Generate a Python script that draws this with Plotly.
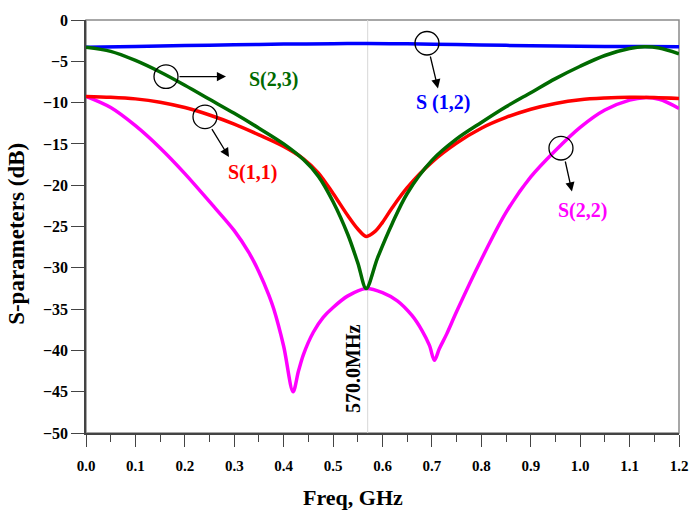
import plotly.graph_objects as go

# ---- data ----
freq_s12 = [0.0, 0.1, 0.2, 0.3, 0.4, 0.5, 0.57, 0.65, 0.75, 0.85, 0.95, 1.05, 1.13, 1.2]
s12 = [-3.3, -3.2, -3.1, -3.0, -2.92, -2.87, -2.85, -2.88, -2.97, -3.07, -3.15, -3.2, -3.22, -3.25]

freq_s23 = [0.0, 0.05, 0.10, 0.15, 0.20, 0.25, 0.30, 0.35, 0.40, 0.44, 0.47, 0.50, 0.53, 0.55, 0.567,
            0.59, 0.62, 0.65, 0.70, 0.75, 0.80, 0.85, 0.90, 0.95, 1.00, 1.05, 1.10, 1.13, 1.16, 1.20]
s23 = [-3.3, -3.8, -4.9, -6.3, -7.9, -9.6, -11.3, -13.1, -15.0, -16.9, -18.9, -22.0, -26.0, -29.4, -32.5,
       -28.8, -24.6, -21.0, -17.0, -14.4, -12.4, -10.5, -8.8, -7.1, -5.6, -4.3, -3.45, -3.25, -3.4, -4.1]

freq_s11 = [0.0, 0.05, 0.10, 0.15, 0.20, 0.25, 0.30, 0.35, 0.40, 0.44, 0.47, 0.50, 0.53, 0.55, 0.567,
            0.585, 0.60, 0.62, 0.65, 0.70, 0.75, 0.80, 0.85, 0.90, 0.95, 1.00, 1.05, 1.10, 1.15, 1.20]
s11 = [-9.25, -9.35, -9.55, -9.95, -10.6, -11.5, -12.6, -13.9, -15.3, -16.8, -18.5, -21.0, -23.7, -25.3, -26.2,
       -25.6, -24.5, -22.7, -20.3, -17.2, -14.9, -13.1, -11.8, -10.8, -10.1, -9.65, -9.45, -9.35, -9.38, -9.5]

freq_s22 = [0.0, 0.05, 0.10, 0.15, 0.20, 0.25, 0.30, 0.33, 0.35, 0.37, 0.38, 0.40, 0.419, 0.43, 0.44,
            0.46, 0.48, 0.50, 0.53, 0.567, 0.60, 0.63, 0.66, 0.68, 0.695, 0.705, 0.715, 0.73, 0.75,
            0.80, 0.85, 0.90, 0.95, 1.00, 1.05, 1.10, 1.13, 1.16, 1.20]
s22 = [-9.25, -10.6, -12.8, -15.5, -18.6, -22.0, -25.5, -28.2, -30.5, -33.3, -35.0, -39.5, -45.0, -42.5, -40.5,
       -37.8, -36.0, -34.8, -33.4, -32.5, -33.0, -34.0, -35.8, -37.6, -39.4, -41.2, -39.8, -38.0, -35.3,
       -29.0, -23.3, -19.0, -15.8, -13.0, -10.9, -9.7, -9.4, -9.6, -10.7]

marker_freq = 0.57
marker_label = "570.0MHz"

x_ticks = [round(0.1 * i, 1) for i in range(13)]
y_ticks = list(range(-50, 1, 5))

FONT = "Liberation Serif"

fig = go.Figure()
series = [
    ("S(1,2)", freq_s12, s12, "#0000FF"),
    ("S(2,2)", freq_s22, s22, "#FF00FF"),
    ("S(1,1)", freq_s11, s11, "#FF0000"),
    ("S(2,3)", freq_s23, s23, "#006A00"),
]
for name, fx, fy, col in series:
    fig.add_trace(go.Scatter(x=fx, y=fy, mode="lines", name=name,
                             line=dict(color=col, width=3.5, shape="spline", smoothing=0.9),
                             showlegend=False, hoverinfo="skip"))

# vertical marker line
fig.add_shape(type="line", x0=marker_freq, x1=marker_freq, y0=-50, y1=0,
              xref="x", yref="y", line=dict(color="#D8D8D8", width=1), layer="below")
fig.add_annotation(x=0.539, y=-42.2, xref="x", yref="y", text=marker_label, showarrow=False,
                   textangle=-90, font=dict(family=FONT, size=20, color="black", weight="bold"))

# frame (gray top/right)
fig.add_shape(type="rect", xref="paper", yref="paper", x0=0, x1=1, y0=0, y1=1,
              line=dict(color="#8A8A8A", width=1.5), layer="below")

def px2f(px):
    return (px - 86) / 494.2

def py2db(py):
    return -(py - 12.3) / 8.42

callouts = [
    # circle(px,py), arrow start(px,py), arrow end(px,py), label(px,py), text, color
    ((166, 70), (178, 70), (226, 70), (274, 73), "S(2,3)", "#006A00"),
    ((205, 111), (211, 122), (229, 152), (253, 168), "S(1,1)", "#FF0000"),
    ((427, 36), (430, 48), (438, 82), (443, 96), "S (1,2)", "#0000FF"),
    ((561, 143), (565, 155), (572, 187), (583, 206), "S(2,2)", "#FF00FF"),
]
r_px = 12
for (cx, cy), (sx, sy), (ex, ey), (tx, ty), txt, col in callouts:
    fig.add_shape(type="circle", xref="x", yref="y",
                  x0=px2f(cx - r_px), x1=px2f(cx + r_px),
                  y0=py2db(cy + r_px), y1=py2db(cy - r_px),
                  line=dict(color="black", width=1.3))
    fig.add_annotation(x=px2f(ex), y=py2db(ey), ax=px2f(sx), ay=py2db(sy),
                       xref="x", yref="y", axref="x", ayref="y", text="",
                       showarrow=True, arrowhead=2, arrowsize=1.4, arrowwidth=1.3,
                       arrowcolor="black")
    fig.add_annotation(x=px2f(tx), y=py2db(ty), xref="x", yref="y", text=txt, showarrow=False,
                       font=dict(family=FONT, size=20, color=col, weight="bold"))

# axis titles
fig.add_annotation(x=(353 - 86) / 593, y=(433 - 499) / 421, xref="paper", yref="paper",
                   text="Freq, GHz", showarrow=False, xanchor="center", yanchor="middle",
                   font=dict(family=FONT, size=22, color="black", weight="bold"))
fig.add_annotation(x=(17 - 86) / 593, y=(433 - 230) / 421, xref="paper", yref="paper",
                   text="S-parameters (dB)", showarrow=False, textangle=-90,
                   xanchor="center", yanchor="middle",
                   font=dict(family=FONT, size=23, color="black", weight="bold"))

fig.update_xaxes(range=[0, 1.2], tickvals=x_ticks, ticktext=[f"{v:.1f}" for v in x_ticks],
                 ticks="outside", ticklen=12, tickwidth=1.3, tickcolor="#444",
                 showline=True, linecolor="#444", linewidth=1.5, showgrid=False, zeroline=False,
                 minor=dict(dtick=0.05, tick0=0, ticks="outside", ticklen=7, tickwidth=1.3, tickcolor="#444", showgrid=False),
                 tickfont=dict(family=FONT, size=15, color="black", weight="bold"),
                 ticklabelstandoff=6)
fig.update_yaxes(range=[-50, 0], tickvals=y_ticks,
                 ticks="outside", ticklen=13, tickwidth=1.3, tickcolor="#444",
                 showline=True, linecolor="#444", linewidth=1.5, showgrid=False, zeroline=False,
                 tickfont=dict(family=FONT, size=16, color="black", weight="bold"),
                 ticklabelstandoff=0)

fig.update_layout(width=700, height=518, margin=dict(l=86, r=21, t=12, b=85),
                  plot_bgcolor="white", paper_bgcolor="white", showlegend=False)

fig.write_html("out.html")
